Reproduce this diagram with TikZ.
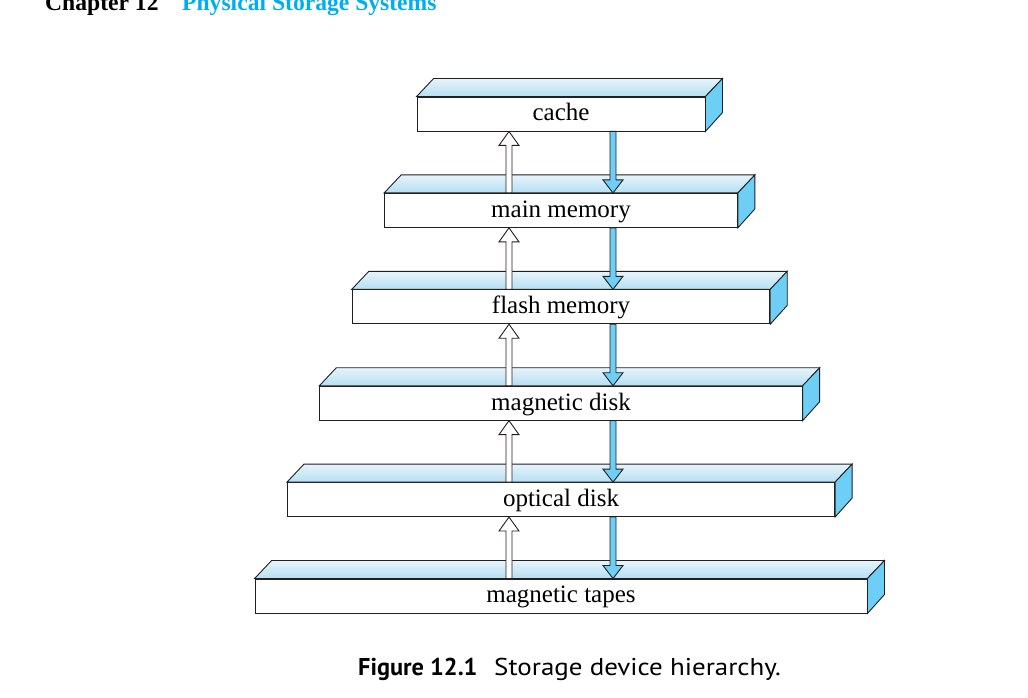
\documentclass[tikz,border=0pt]{standalone}
\usepackage{fontspec}
\setmainfont{Liberation Serif}
\newfontfamily\capfont{PT Sans}
\newfontfamily\capwide[FakeStretch=1.11]{PT Sans}
\usetikzlibrary{calc}
\definecolor{edge}{HTML}{231F20}
\definecolor{sideblue}{HTML}{6DCFF6}
\definecolor{topback}{HTML}{E6F4FB}
\definecolor{topfront}{HTML}{B5DFF3}
\definecolor{headcyan}{HTML}{00AEEF}
\tikzset{
  levelbox/.style={draw=edge, line width=0.9pt, fill=white, minimum height=34pt,
    inner sep=0pt, text height=18pt, text depth=4pt, font=\fontsize{25}{25}\selectfont},
  topface/.style={draw=edge, line width=0.9pt, top color=topback, bottom color=topfront},
  sideface/.style={draw=edge, line width=0.9pt, fill=sideblue},
  uparrow/.style={draw=edge, line width=0.9pt, fill=white, line join=miter},
  downarrow/.style={draw=edge, line width=0.9pt, fill=sideblue, line join=miter},
}
\newcommand\slab[1]{%
  \path[topface] (#1.north west) -- ++(17,18) -- ($(#1.north east)+(17,18)$) -- (#1.north east) -- cycle;
  \path[sideface] (#1.north east) -- ++(17,18) -- ++(0,-34) -- (#1.south east) -- cycle;
}
% #1 lower node, #2 upper node
\newcommand\uplink[2]{%
  \path[uparrow] let \p1=(#1.north), \p2=(#2.south) in
    (506,\y1) -- (506,\y2-14) -- (499,\y2-14) -- (509,\y2) -- (519,\y2-14) -- (512,\y2-14) -- (512,\y1) -- cycle;
}
\newcommand\downlink[2]{%
  \path[downarrow] let \p1=(#1.south), \p2=(#2.north) in
    (610,\y1) -- (610,\y2+13) -- (603,\y2+13) -- (613,\y2) -- (623,\y2+13) -- (616,\y2+13) -- (616,\y1) -- cycle;
}
\begin{document}
\begin{tikzpicture}[x=1pt,y=1pt]
\useasboundingbox (0,0) rectangle (1028,698);
\fill[white] (0,0) rectangle (1028,698);
% header
\node[anchor=base west, inner sep=0pt, font=\fontsize{23.6}{24}\selectfont\bfseries] (chap) at (45,687) {Chapter 12};
\node[anchor=base west, inner sep=0pt, font=\fontsize{23.6}{24}\selectfont\bfseries, text=headcyan] (title) at (182,687) {Physical Storage Systems};
% levels
\node[levelbox, minimum width=288pt]   (cache) at (561,584)   {cache};
\node[levelbox, minimum width=352.8pt] (main)  at (561,487.6) {main memory};
\node[levelbox, minimum width=417.6pt] (flash) at (561,391.2) {flash memory};
\node[levelbox, minimum width=482.4pt] (mdisk) at (561,294.8) {magnetic disk};
\node[levelbox, minimum width=547.2pt] (odisk) at (561,198.4) {optical disk};
\node[levelbox, minimum width=612pt]   (tapes) at (561,102)   {magnetic tapes};
\slab{cache}\slab{main}\slab{flash}\slab{mdisk}\slab{odisk}\slab{tapes}
% links
\uplink{main}{cache}\downlink{cache}{main}
\uplink{flash}{main}\downlink{main}{flash}
\uplink{mdisk}{flash}\downlink{flash}{mdisk}
\uplink{odisk}{mdisk}\downlink{mdisk}{odisk}
\uplink{tapes}{odisk}\downlink{odisk}{tapes}
% caption
\node[anchor=base west, inner sep=0pt, font=\capfont\fontsize{24.3}{25}\selectfont\bfseries] (figno) at (358,22) {Figure 12.1};
\node[anchor=base west, inner sep=0pt, font=\capwide\fontsize{24.3}{25}\selectfont] (figcap) at (494,22) {Storage device hierarchy.};
\end{tikzpicture}
\end{document}
